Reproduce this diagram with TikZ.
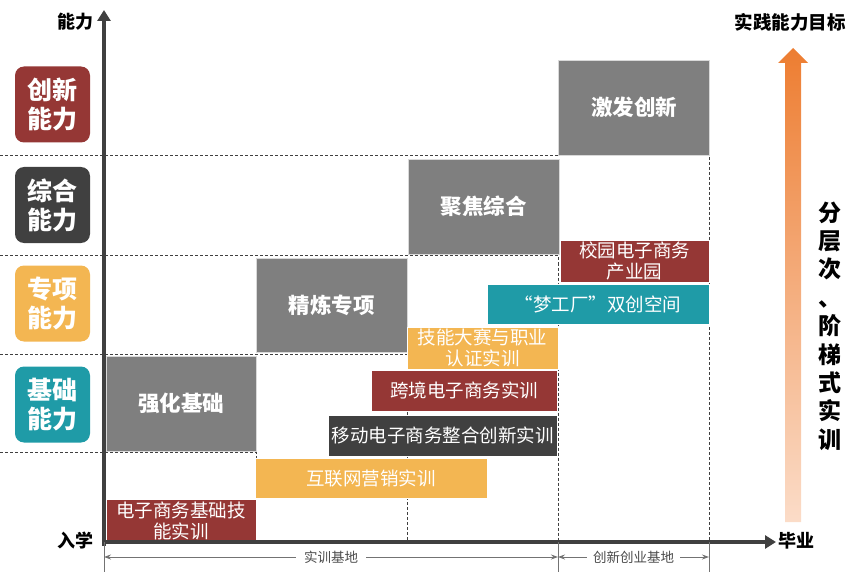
\documentclass[tikz,border=0pt]{standalone}
\usepackage{fontspec}
\setmainfont{Noto Sans CJK SC}
\usetikzlibrary{positioning,arrows.meta}

\definecolor{levelred}{HTML}{953735}
\definecolor{leveldark}{HTML}{404040}
\definecolor{levelgold}{HTML}{F3B652}
\definecolor{levelteal}{HTML}{1F9BA7}
\definecolor{stagegray}{HTML}{7F7F7F}
\definecolor{axisgray}{HTML}{404040}
\definecolor{aimorange}{HTML}{ED7D31}
\definecolor{aimpeach}{HTML}{FBDCC8}

\tikzset{
  levelbox/.style={rounded corners=9pt, minimum width=75pt, minimum height=76pt, inner sep=0pt,
    text=white, align=center, font=\fontsize{25}{29}\selectfont\bfseries},
  stagebox/.style={fill=stagegray, draw=black!15, line width=0.6pt, inner sep=0pt,
    text=white, font=\fontsize{21.5}{25}\selectfont\bfseries},
  bar/.style={draw=white, line width=0.6pt, inner sep=0pt, text=white, align=center,
    font=\fontsize{18.5}{21}\selectfont},
  gridline/.style={draw=black!75, line width=1pt, dash pattern=on 3pt off 2pt},
  axisline/.style={draw=axisgray, line width=3.5pt, -{Triangle[width=13pt,length=11pt]}},
  baseline/.style={draw=black!55, line width=0.9pt},
  axislabel/.style={font=\fontsize{18}{21}\selectfont\bfseries},
}

\begin{document}
\begin{tikzpicture}[x=1pt, y=-1pt]
    \useasboundingbox (0,0) rectangle (860,575);

    % grid of stages
    \draw[gridline] (0,452) -- (256,452) -- (256,542);
    \draw[gridline] (0,354) -- (407,354) -- (407,542);
    \draw[gridline] (0,255.5) -- (558,255.5) -- (558,542);
    \draw[gridline] (0,156) -- (709,156) -- (709,542);

    % ability levels
    \node[levelbox, fill=levelred] (innov) at (52.5,104.5) {创新\\能力};
    \node[levelbox, fill=leveldark] (synth) at (52.5,205) {综合\\能力};
    \node[levelbox, fill=levelgold] (special) at (52.5,303.5) {专项\\能力};
    \node[levelbox, fill=levelteal] (basic) at (52.5,404.5) {基础\\能力};

    % stages
    \node[stagebox, minimum width=150pt, minimum height=95pt] (strengthen) at (181,403.5) {强化基础};
    \node[stagebox, minimum width=151pt, minimum height=94pt] (refine) at (331.5,305) {精炼专项};
    \node[stagebox, minimum width=151pt, minimum height=95pt] (focus) at (483.5,206.5) {聚焦综合};
    \node[stagebox, minimum width=151pt, minimum height=95pt] (inspire) at (634,107.5) {激发创新};

    % training bars
    \node[bar, fill=levelred, minimum width=150pt, minimum height=42pt] (ecbasic) at (181,520.5) {电子商务基础技\\能实训};
    \node[bar, fill=levelgold, minimum width=232pt, minimum height=40pt] (netmkt) at (371,478) {互联网营销实训};
    \node[bar, fill=leveldark, minimum width=229pt, minimum height=41pt] (mobile) at (442.5,435.5) {移动电子商务整合创新实训};
    \node[bar, fill=levelred, minimum width=186pt, minimum height=41pt] (crossb) at (464,390.5) {跨境电子商务实训};
    \node[bar, fill=levelgold, minimum width=151pt, minimum height=42pt] (contest) at (482.5,348) {技能大赛与职业\\认证实训};
    \node[bar, fill=levelteal, minimum width=222pt, minimum height=40pt] (dream) at (598,304) {“梦工厂”双创空间};
    \node[bar, fill=levelred, minimum width=149pt, minimum height=42pt] (park) at (634.5,261) {校园电子商务\\产业园};

    % axes
    \coordinate (origin) at (104,542);
    \coordinate (ytop) at (104,10);
    \coordinate (xend) at (776,542);
    \draw[axisline] (104,546) -- (ytop);
    \draw[axisline] (102,542) -- (xend);
    \node[axislabel] (ylab) at (75,22) {能力};
    \node[axislabel] (start) at (75,541) {入学};
    \node[axislabel] (finish) at (796,541) {毕业};
    \node[axislabel, font=\fontsize{18.5}{21}\selectfont\bfseries] (aim) at (790,22) {实践能力目标};

    % bases under the axis
    \coordinate (b0) at (104,557);
    \coordinate (b1) at (558,557);
    \coordinate (b2) at (709,557);
    \draw[baseline] (origin) -- (104,572);
    \draw[baseline] (558,542) -- (558,572);
    \draw[baseline] (709,542) -- (709,572);
    \draw[baseline, {Stealth[length=7pt,width=5pt]}-{Stealth[length=7pt,width=5pt]}] (b0) -- (b1)
        node[midway, fill=white, inner xsep=8pt, text=black!70, font=\fontsize{13.5}{15}\selectfont] (trainbase) {实训基地};
    \draw[baseline, {Stealth[length=7pt,width=5pt]}-{Stealth[length=7pt,width=5pt]}] (b1) -- (b2)
        node[midway, fill=white, inner xsep=6pt, text=black!70, font=\fontsize{13.5}{15}\selectfont] (startbase) {创新创业基地};

    % target arrow
    \shade[top color=aimorange, bottom color=aimpeach]
        (785,522) -- (785,63) -- (778,63) -- (793,48) -- (808,63) -- (801,63) -- (801,522) -- cycle;
    \node[align=center, font=\fontsize{23}{28.4}\selectfont\bfseries] (motto) at (830,326)
        {分\\层\\次\\、\\阶\\梯\\式\\实\\训};
\end{tikzpicture}
\end{document}
